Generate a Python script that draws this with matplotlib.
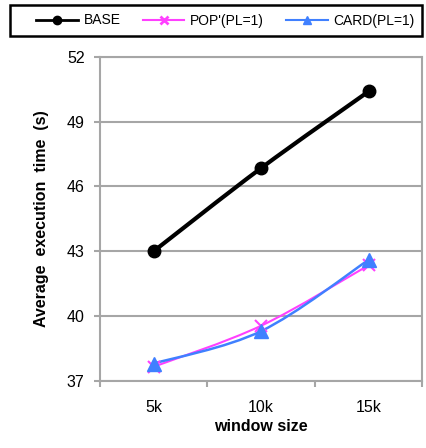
import matplotlib.pyplot as plt
import numpy as np
from matplotlib.path import Path
from matplotlib.patches import PathPatch, Rectangle

plt.rcParams['font.family'] = ['Liberation Sans', 'DejaVu Sans']

categories = ['5k', '10k', '15k']
base = [43.0, 46.85, 50.4]
pop = [37.65, 39.55, 42.35]
card = [37.8, 39.3, 42.6]
yticks = [37, 40, 43, 46, 49, 52]

grey = '#a6a6a6'


def smooth_path(x, y, t=1/6.0):
    # Catmull-Rom style bezier through the points
    pts = np.column_stack([x, y]).astype(float)
    verts = [pts[0]]
    codes = [Path.MOVETO]
    n = len(pts)
    for i in range(n - 1):
        p0 = pts[max(i - 1, 0)]
        p1 = pts[i]
        p2 = pts[i + 1]
        p3 = pts[min(i + 2, n - 1)]
        c1 = p1 + (p2 - p0) * t
        c2 = p2 - (p3 - p1) * t
        verts += [c1, c2, p2]
        codes += [Path.CURVE4] * 3
    return Path(verts, codes)


W, H = 427, 448
fig = plt.figure(figsize=(W / 100, H / 100), dpi=100)
ax = fig.add_axes([0.234, 0.150, 0.755, 0.723])
x = np.arange(len(categories))

series = [
    ('BASE', base, 'black', 'o', 9, 3.0),
    ("POP'(PL=1)", pop, '#ff40ff', 'x', 8, 1.5),
    ('CARD(PL=1)', card, '#4080ff', '^', 10, 1.8),
]
handles = []
for name, vals, col, mk, ms, lw in series:
    ax.add_patch(PathPatch(smooth_path(x, vals), fill=False, edgecolor=col, lw=lw, zorder=3))
    ax.plot(x, vals, linestyle='none', marker=mk, color=col, ms=ms,
            mew=1.5 if mk == 'x' else 1, zorder=4)
    h, = ax.plot([], [], color=col, lw=1.5 if name != 'BASE' else 2, marker=mk, ms=6,
                 mew=2 if mk == 'x' else 1)
    handles.append(h)

ax.set_xlim(-0.5, 2.5)
ax.set_ylim(37, 52)
ax.set_yticks(yticks)
ax.set_xticks(x)
ax.set_xticklabels(categories)
ax.set_xticks([-0.5, 0.5, 1.5, 2.5], minor=True)
ax.tick_params(axis='x', which='major', length=0, pad=14, labelsize=11.5)
ax.tick_params(axis='x', which='minor', length=4, color=grey, width=1.5)
ax.tick_params(axis='y', length=4, color=grey, width=1.5, labelsize=11.5, pad=7)
ax.yaxis.grid(True, color=grey, lw=1.5)
ax.set_axisbelow(True)
for s in ax.spines.values():
    s.set_color(grey)
    s.set_linewidth(1.5)

ax.set_xlabel('window size', fontweight='bold', fontsize=11.5, labelpad=3)
ax.set_ylabel('Average  execution  time  (s)', fontweight='bold', fontsize=11.5, labelpad=13)

# legend box across the top
fig.patches.append(Rectangle((10 / W, 1 - 36 / H), 412 / W, 31 / H, transform=fig.transFigure,
                             fill=False, edgecolor='black', lw=1.8))
leg = fig.legend(handles, [s[0] for s in series], loc='center', ncol=3,
                 bbox_to_anchor=(0.528, 1 - 20.5 / H), frameon=False,
                 fontsize=10, handlelength=3.0, columnspacing=1.6,
                 handletextpad=0.4)

fig.savefig('out.png', dpi=100)
